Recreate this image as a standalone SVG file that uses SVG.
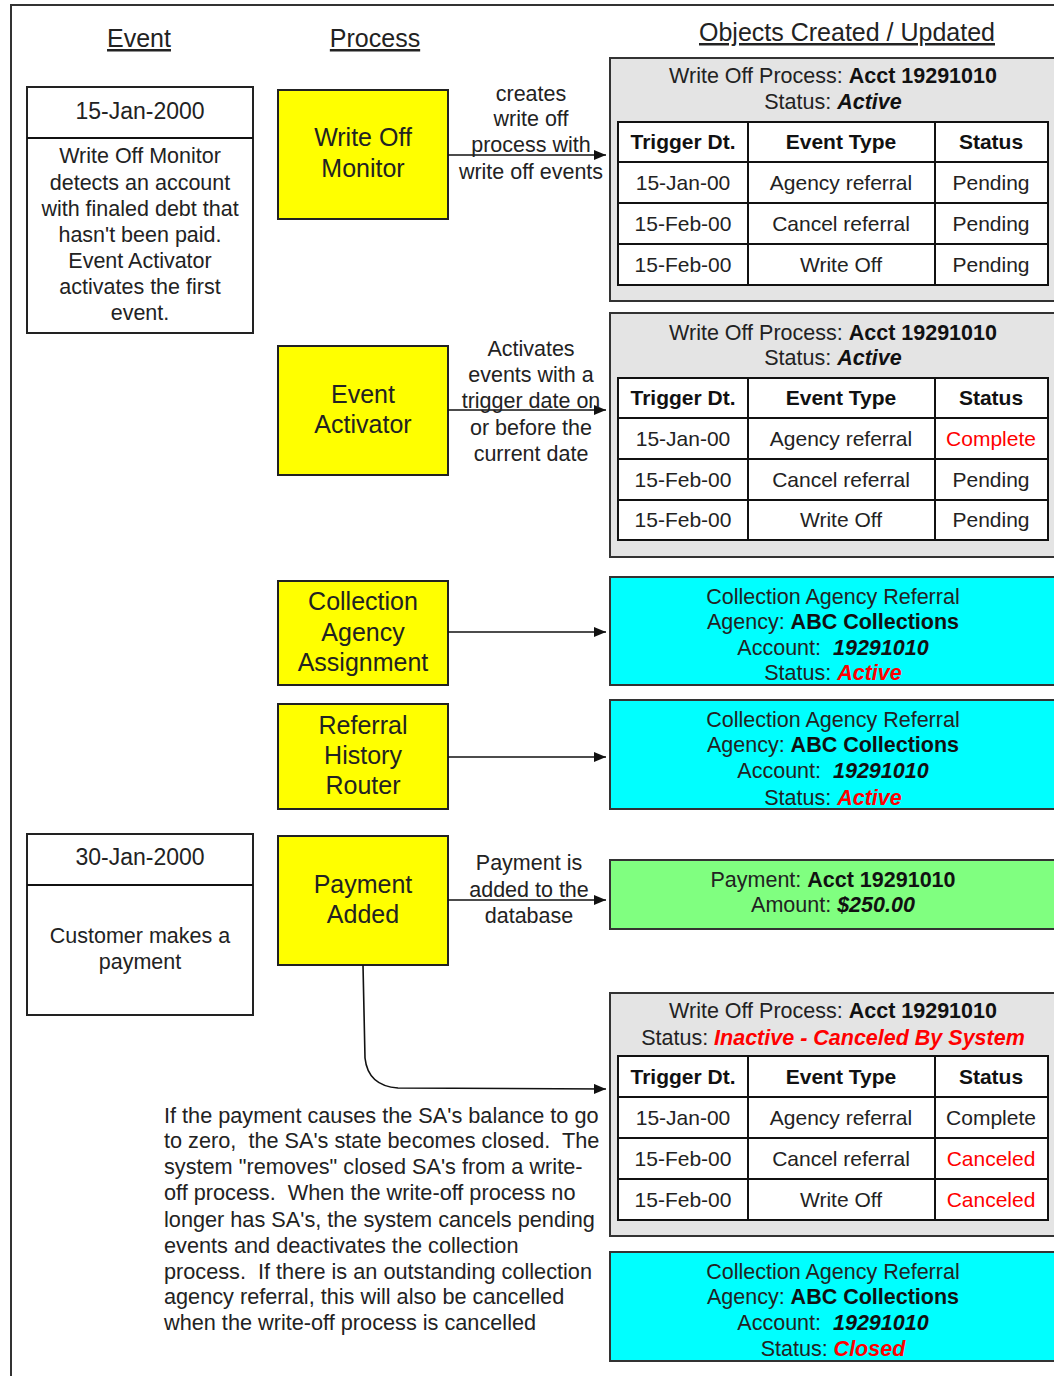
<svg xmlns="http://www.w3.org/2000/svg" width="1054" height="1376" viewBox="0 0 1054 1376">
<defs>
<marker id="arr" viewBox="0 0 12 10" refX="12" refY="5" markerWidth="12" markerHeight="10" markerUnits="userSpaceOnUse" orient="auto">
<path d="M0,0 L12,5 L0,10 Z" fill="#111"/>
</marker>
<style>
text{font-family:"Liberation Sans",Arial,sans-serif;fill:#222;white-space:pre}
.h{font-size:25px;text-anchor:middle;text-decoration:underline}
.p{font-size:25px;text-anchor:middle}
.t{font-size:21.5px;text-anchor:middle}
.d{font-size:23px;text-anchor:middle}
.c{font-size:21px;text-anchor:middle}
.para{font-size:21.7px}
.b{font-weight:bold;fill:#111}
.bi{font-weight:bold;font-style:italic;fill:#111}
.red{fill:#FF0000}
.evt{fill:#fff;stroke:#222;stroke-width:2}
.proc{fill:#FFFF00;stroke:#222;stroke-width:2}
.gray{fill:#E4E4E4;stroke:#333;stroke-width:2}
.cyan{fill:#00FFFF;stroke:#333;stroke-width:2}
.green{fill:#80FF80;stroke:#333;stroke-width:2}
.tbl{fill:#fff;stroke:#111;stroke-width:2}
.ln{stroke:#111;stroke-width:2;fill:none}
.conn{stroke:#111;stroke-width:1.6;fill:none;marker-end:url(#arr)}
</style>
</defs>
<rect x="11" y="5" width="1100" height="1420" fill="#fff" stroke="#333" stroke-width="2"/>

<g id="headers">
<text class="h" x="139" y="47">Event</text>
<text class="h" x="375" y="47">Process</text>
<text class="h" x="847" y="41">Objects Created / Updated</text>
</g>

<g id="event-15jan">
<rect class="evt" x="27" y="87" width="226" height="246"/>
<line class="ln" x1="27" y1="138" x2="253" y2="138"/>
<text class="d" x="140" y="119">15-Jan-2000</text>
<text class="t" x="140" y="163">Write Off Monitor</text>
<text class="t" x="140" y="190">detects an account</text>
<text class="t" x="140" y="216">with finaled debt that</text>
<text class="t" x="140" y="242">hasn't been paid.</text>
<text class="t" x="140" y="268">Event Activator</text>
<text class="t" x="140" y="294">activates the first</text>
<text class="t" x="140" y="320">event.</text>
</g>

<g id="event-30jan">
<rect class="evt" x="27" y="834" width="226" height="181"/>
<line class="ln" x1="27" y1="885" x2="253" y2="885"/>
<text class="d" x="140" y="865">30-Jan-2000</text>
<text class="t" x="140" y="943">Customer makes a</text>
<text class="t" x="140" y="969">payment</text>
</g>

<g id="proc-write-off-monitor">
<rect class="proc" x="278" y="90" width="170" height="129"/>
<text class="p" x="363" y="146">Write Off</text>
<text class="p" x="363" y="177">Monitor</text>
</g>
<g id="proc-event-activator">
<rect class="proc" x="278" y="346" width="170" height="129"/>
<text class="p" x="363" y="403">Event</text>
<text class="p" x="363" y="433">Activator</text>
</g>
<g id="proc-collection-agency-assignment">
<rect class="proc" x="278" y="581" width="170" height="104"/>
<text class="p" x="363" y="610">Collection</text>
<text class="p" x="363" y="641">Agency</text>
<text class="p" x="363" y="671">Assignment</text>
</g>
<g id="proc-referral-history-router">
<rect class="proc" x="278" y="704" width="170" height="105"/>
<text class="p" x="363" y="734">Referral</text>
<text class="p" x="363" y="764">History</text>
<text class="p" x="363" y="794">Router</text>
</g>
<g id="proc-payment-added">
<rect class="proc" x="278" y="836" width="170" height="129"/>
<text class="p" x="363" y="893">Payment</text>
<text class="p" x="363" y="923">Added</text>
</g>

<g id="obj-writeoff-1">
<rect class="gray" x="610" y="58" width="460" height="243"/>
<text class="t" x="833" y="83">Write Off Process: <tspan class="b">Acct 19291010</tspan></text>
<text class="t" x="833" y="109">Status: <tspan class="bi">Active</tspan></text>
<rect class="tbl" x="618" y="122" width="430" height="163"/>
<path class="ln" d="M618,162H1048M618,203H1048M618,244H1048M748,122V285M935,122V285"/>
<text class="c b" x="683" y="149">Trigger Dt.</text>
<text class="c b" x="841" y="149">Event Type</text>
<text class="c b" x="991" y="149">Status</text>
<text class="c" x="683" y="190">15-Jan-00</text>
<text class="c" x="841" y="190">Agency referral</text>
<text class="c" x="991" y="190">Pending</text>
<text class="c" x="683" y="231">15-Feb-00</text>
<text class="c" x="841" y="231">Cancel referral</text>
<text class="c" x="991" y="231">Pending</text>
<text class="c" x="683" y="272">15-Feb-00</text>
<text class="c" x="841" y="272">Write Off</text>
<text class="c" x="991" y="272">Pending</text>
</g>

<g id="obj-writeoff-2">
<rect class="gray" x="610" y="313" width="460" height="244"/>
<text class="t" x="833" y="340">Write Off Process: <tspan class="b">Acct 19291010</tspan></text>
<text class="t" x="833" y="365">Status: <tspan class="bi">Active</tspan></text>
<rect class="tbl" x="618" y="378" width="430" height="162"/>
<path class="ln" d="M618,418H1048M618,459H1048M618,500H1048M748,378V540M935,378V540"/>
<text class="c b" x="683" y="405">Trigger Dt.</text>
<text class="c b" x="841" y="405">Event Type</text>
<text class="c b" x="991" y="405">Status</text>
<text class="c" x="683" y="446">15-Jan-00</text>
<text class="c" x="841" y="446">Agency referral</text>
<text class="c red" x="991" y="446">Complete</text>
<text class="c" x="683" y="487">15-Feb-00</text>
<text class="c" x="841" y="487">Cancel referral</text>
<text class="c" x="991" y="487">Pending</text>
<text class="c" x="683" y="527">15-Feb-00</text>
<text class="c" x="841" y="527">Write Off</text>
<text class="c" x="991" y="527">Pending</text>
</g>

<g id="obj-referral-1">
<rect class="cyan" x="610" y="577" width="460" height="108"/>
<text class="t" x="833" y="604">Collection Agency Referral</text>
<text class="t" x="833" y="629">Agency: <tspan class="b">ABC Collections</tspan></text>
<text class="t" x="833" y="655">Account:  <tspan class="bi">19291010</tspan></text>
<text class="t" x="833" y="680">Status: <tspan class="bi red">Active</tspan></text>
</g>

<g id="obj-referral-2">
<rect class="cyan" x="610" y="700" width="460" height="109"/>
<text class="t" x="833" y="727">Collection Agency Referral</text>
<text class="t" x="833" y="752">Agency: <tspan class="b">ABC Collections</tspan></text>
<text class="t" x="833" y="778">Account:  <tspan class="bi">19291010</tspan></text>
<text class="t" x="833" y="805">Status: <tspan class="bi red">Active</tspan></text>
</g>

<g id="obj-payment">
<rect class="green" x="610" y="860" width="460" height="69"/>
<text class="t" x="833" y="887">Payment: <tspan class="b">Acct 19291010</tspan></text>
<text class="t" x="833" y="912">Amount: <tspan class="bi">$250.00</tspan></text>
</g>

<g id="obj-writeoff-3">
<rect class="gray" x="610" y="993" width="460" height="243"/>
<text class="t" x="833" y="1018">Write Off Process: <tspan class="b">Acct 19291010</tspan></text>
<text class="t" x="833" y="1045">Status: <tspan class="bi red">Inactive - Canceled By System</tspan></text>
<rect class="tbl" x="618" y="1056" width="430" height="164"/>
<path class="ln" d="M618,1097H1048M618,1138H1048M618,1179H1048M748,1056V1220M935,1056V1220"/>
<text class="c b" x="683" y="1084">Trigger Dt.</text>
<text class="c b" x="841" y="1084">Event Type</text>
<text class="c b" x="991" y="1084">Status</text>
<text class="c" x="683" y="1125">15-Jan-00</text>
<text class="c" x="841" y="1125">Agency referral</text>
<text class="c" x="991" y="1125">Complete</text>
<text class="c" x="683" y="1166">15-Feb-00</text>
<text class="c" x="841" y="1166">Cancel referral</text>
<text class="c red" x="991" y="1166">Canceled</text>
<text class="c" x="683" y="1207">15-Feb-00</text>
<text class="c" x="841" y="1207">Write Off</text>
<text class="c red" x="991" y="1207">Canceled</text>
</g>

<g id="obj-referral-3">
<rect class="cyan" x="610" y="1252" width="460" height="109"/>
<text class="t" x="833" y="1279">Collection Agency Referral</text>
<text class="t" x="833" y="1304">Agency: <tspan class="b">ABC Collections</tspan></text>
<text class="t" x="833" y="1330">Account:  <tspan class="bi">19291010</tspan></text>
<text class="t" x="833" y="1356">Status: <tspan class="bi red">Closed</tspan></text>
</g>

<g id="note">
<text class="para" x="164" y="1123">If the payment causes the SA's balance to go</text>
<text class="para" x="164" y="1148">to zero,  the SA's state becomes closed.  The</text>
<text class="para" x="164" y="1174">system "removes" closed SA's from a write-</text>
<text class="para" x="164" y="1200">off process.  When the write-off process no</text>
<text class="para" x="164" y="1227">longer has SA's, the system cancels pending</text>
<text class="para" x="164" y="1253">events and deactivates the collection</text>
<text class="para" x="164" y="1279">process.  If there is an outstanding collection</text>
<text class="para" x="164" y="1304">agency referral, this will also be cancelled</text>
<text class="para" x="164" y="1330">when the write-off process is cancelled</text>
</g>

<g id="connectors">
<path class="conn" d="M448,155H606"/>
<path class="conn" d="M448,410H606"/>
<path class="conn" d="M448,632H606"/>
<path class="conn" d="M448,757H606"/>
<path class="conn" d="M448,900H606"/>
<path class="conn" d="M363,965L365,1058Q368,1086 398,1088L606,1089"/>
<text class="t" x="531" y="101">creates</text>
<text class="t" x="531" y="126">write off</text>
<text class="t" x="531" y="152">process with</text>
<text class="t" x="531" y="179">write off events</text>
<text class="t" x="531" y="356">Activates</text>
<text class="t" x="531" y="382">events with a</text>
<text class="t" x="531" y="408">trigger date on</text>
<text class="t" x="531" y="435">or before the</text>
<text class="t" x="531" y="461">current date</text>
<text class="t" x="529" y="870">Payment is</text>
<text class="t" x="529" y="897">added to the</text>
<text class="t" x="529" y="923">database</text>
</g>
</svg>
